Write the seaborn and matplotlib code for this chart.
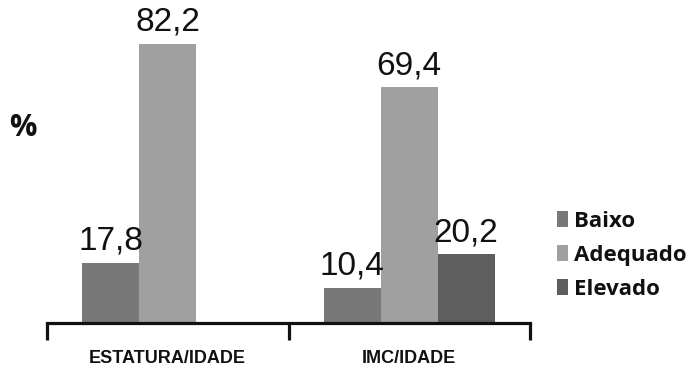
import matplotlib
matplotlib.use("Agg")
import matplotlib.pyplot as plt
import seaborn as sns
import pandas as pd

indicadores = ["ESTATURA/IDADE", "ESTATURA/IDADE", "IMC/IDADE", "IMC/IDADE", "IMC/IDADE"]
classificacao = ["Baixo", "Adequado", "Baixo", "Adequado", "Elevado"]
percentuais = [17.8, 82.2, 10.4, 69.4, 20.2]
ordem_indicadores = ["ESTATURA/IDADE", "IMC/IDADE"]
ordem_classes = ["Baixo", "Adequado", "Elevado"]
cores = ["#787878", "#a0a0a0", "#5e5e5e"]

df = pd.DataFrame({"indicador": indicadores, "classe": classificacao, "pct": percentuais})

sns.set_theme(style="white")
plt.rcParams["font.family"] = ["Liberation Sans", "DejaVu Sans"]

fig = plt.figure(figsize=(6.91, 3.68), dpi=100)
ax = fig.add_axes([47 / 691, 45 / 368, 483 / 691, 305.5 / 368])

sns.barplot(data=df, x="indicador", y="pct", hue="classe", order=ordem_indicadores,
            hue_order=ordem_classes, palette=cores, width=0.707, saturation=1,
            edgecolor="none", linewidth=0, ax=ax, legend=True)

for cont in ax.containers:
    ax.bar_label(cont, labels=[f"{v:.1f}".replace(".", ",") for v in cont.datavalues],
                 padding=4.5, fontsize=24, color="#111111")

ax.set_xlim(-0.5, 1.5)
ax.set_ylim(0, 90)
ax.set_xlabel("")
ax.set_ylabel("")
ax.set_yticks([])
for s in ["top", "right", "left"]:
    ax.spines[s].set_visible(False)
ax.spines["bottom"].set_linewidth(2.3)
ax.spines["bottom"].set_color("#111111")

# boundary ticks below the axis, category names as minor ticks
ax.set_xticks([-0.5, 0.5, 1.5])
ax.set_xticklabels(["", "", ""])
ax.tick_params(axis="x", which="major", bottom=True, direction="out",
               length=12.5, width=2.3, color="#111111")
ax.set_xticks([0, 1], minor=True)
ax.set_xticklabels(ordem_indicadores, minor=True, fontsize=13, fontweight="bold")
ax.tick_params(axis="x", which="minor", length=0, pad=19.5, labelcolor="#111111")

fig.text(23 / 691, 1 - 128 / 368, "%", fontsize=22, fontweight="bold",
         family=["Open Sans", "DejaVu Sans"],
         ha="center", va="center", color="#111111")

leg = ax.legend(loc="center left", bbox_to_anchor=(557 / 691, 1 - 255.5 / 368),
                bbox_transform=fig.transFigure, frameon=False,
                prop={"family": "Open Sans", "weight": "bold", "size": 16},
                handlelength=0.5, handleheight=0.75, handletextpad=0.28,
                labelspacing=0.58, borderaxespad=0, borderpad=0)
for t in leg.get_texts():
    t.set_color("#111111")

fig.savefig("out.png", dpi=100)
